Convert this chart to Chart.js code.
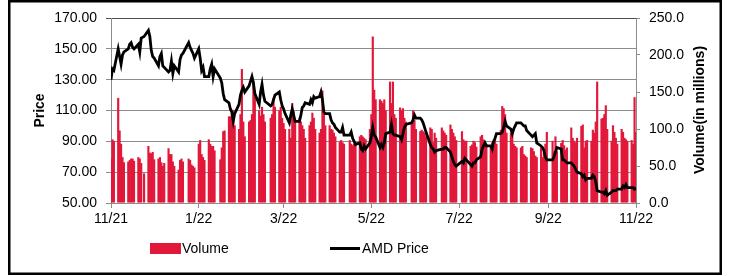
<!DOCTYPE html>
<html>
<head>
<meta charset="utf-8">
<script src="https://cdn.jsdelivr.net/npm/chart.js@4/dist/chart.umd.min.js"></script>
<style>
  html, body { margin: 0; padding: 0; background: #fff; }
  #wrap { width: 733px; height: 276px; position: relative; }
</style>
</head>
<body>
<div id="wrap"><canvas id="c" width="733" height="276"></canvas></div>
<script>
// Axis calendar: day 0 = Wed 3 Nov 2021, day 365 = Thu 3 Nov 2022 (weekdays only carry data)
const startDate = '2021-11-03';
const axisDays = 365;
const tickDays = [0, 61, 120, 181, 242, 304, 365];
const tickLabels = ['11/21', '1/22', '3/22', '5/22', '7/22', '9/22', '11/22'];
const priceTicks = [50, 70, 90, 110, 130, 150, 170];
const volumeTicks = [0, 50, 100, 150, 200, 250];

// Daily volume (millions), one row per calendar week (Mon..Fri), null = market holiday
const volume = [
  60, 86, 84,
  142, 98, 80, 62, 55,
  56, 58, 60, 60, 57,
  62, 60, 54, null, 40,
  77, 68, 67, 69, 59,
  60, 62, 55, 50, 54,
  74, 66, 66, 56, 50,
  45, 58, 60, 56, null,
  60, 58, 52, 50, 48,
  80, 85, 66, 62, 58,
  86, 80, 77, 77, 71,
  null, 59, 75, 97, 98,
  117, 117, 120, 126, 105,
  100, 120, 181, 110, 90,
  110, 112, 120, 165, 150,
  125, 118, 130, 120, 110,
  null, 115, 120, 142, 130,
  125, 130, 115, 108, 100,
  100, 88, 135, 124, 110,
  115, 110, 105, 100, 88,
  105, 110, 122, 115, 100,
  95, 100, 152, 120, 105,
  105, 100, 99, 95, 90,
  83, 85, 82, 80, null,
  85, 80, 78, 80, 82,
  90, 92, 90, 88, 86,
  100, 120, 225, 153, 140,
  140, 138, 135, 140, 125,
  164, 135, 164, 120, 115,
  129, 125, 128, 115, 110,
  null, 108, 125, 112, 100,
  97, 99, 97, 95, 90,
  102, 100, 82, 95, 88,
  null, 102, 98, 95, 92,
  106, 100, 95, 90, 85,
  null, 97, 86, 84, 84,
  77, 79, 84, 82, 76,
  90, 92, 86, 78, 80,
  75, 82, 78, 86, 80,
  99, 131, 128, 120, 95,
  95, 95, 80, 77, 75,
  75, 77, 66, 64, 62,
  75, 74, 70, 64, 62,
  75, 62, 70, 80, 96,
  null, 84, 70, 90, 70,
  81, 85, 78, 72, 75,
  102, 88, 84, 82, 88,
  104, 106, 75, 84, 85,
  84, 99, 95, 110, 164,
  114, 115, 120, 132, 100,
  84, 105, 96, 88, 80,
  100, 96, 88, 86, 84,
  85, 80, 143, 96
];

// Daily closing price (USD), same layout
const price = [
  130, 137, 136,
  150, 145, 140, 146, 148,
  150, 153, 154, 151, 150,
  153, 148, 157, null, 158,
  162, 158, 149, 145, 144,
  139, 145, 147, 139, 138,
  135, 136, 142, 134, 139,
  135, 143, 146, 147, null,
  154, 151, 149, 147, 144,
  150, 144, 136, 138, 132,
  132, 137, 140, 132, 137,
  null, 131, 128, 121, 117,
  115, 111, 109, 103, 108,
  114, 120, 123, 125, 122,
  126, 129, 132, 128, 121,
  114, 122, 127, 120, 116,
  null, 113, 114, 117, 120,
  122, 117, 113, 111, 108,
  102, 107, 111, 107, 103,
  103, 107, 112, 113, 115,
  114, 117, 115, 119, 118,
  119, 122, 117, 109, 108,
  108, 104, 102, 101, 99,
  96, 96, 99, 94, null,
  94, 96, 92, 90, 88,
  89, 85, 84, 87, 85,
  89, 93, 99, 94, 93,
  86, 88, 86, 89, 95,
  96, 101, 95, 94, 94,
  93, 91, 95, 99, 101,
  null, 102, 104, 107, 105,
  105, 104, 102, 99, 96,
  88, 86, 85, 83, 84,
  null, 85, 85, 86, 86,
  83, 80, 77, 75, 74,
  null, 77, 76, 79, 78,
  75, 74, 76, 76, 78,
  80, 85, 87, 89, 87,
  87, 85, 90, 92, 95,
  95, 96, 99, 103, 100,
  98, 95, 98, 100, 102,
  102, 101, 100, 100, 97,
  94, 93, 94, 95, 89,
  87, 86, 84, 80, 78,
  null, 78, 80, 83, 86,
  85, 78, 78, 77, 76,
  76, 75, 74, 72, 70,
  69, 67, 68, 65, 66,
  66, 68, 67, 64, 58,
  57, 57, 56, 58, 55,
  57, 58, 58, 58, 59,
  59, 61, 60, 62, 60,
  60, 60, 59, 60
];

// weekday offsets from startDate
const weekdays = [];
(function () {
  const s = new Date(startDate + 'T12:00:00Z');
  for (let d = 0; d <= axisDays; d++) {
    const t = new Date(s.getTime() + d * 86400000);
    const wd = t.getUTCDay();
    if (wd !== 0 && wd !== 6) weekdays.push(d);
  }
})();

const volPts = [], pricePts = [];
weekdays.forEach((d, i) => {
  if (volume[i] != null) volPts.push({ x: d, y: volume[i] });
  if (price[i] != null) pricePts.push({ x: d, y: price[i] });
});

const BAR = '#E2183A';
const FONT = '"Liberation Sans", Arial, sans-serif';
const GRID = '#8c8c8c';

const decor = {
  id: 'decor',
  beforeDraw(chart) {
    const ctx = chart.ctx;
    ctx.save();
    ctx.fillStyle = '#fff';
    ctx.fillRect(0, 0, chart.width, chart.height);
    ctx.restore();
  },
  afterDraw(chart) {
    const ctx = chart.ctx;
    ctx.save();
    ctx.strokeStyle = '#000';
    ctx.lineWidth = 2.5;
    ctx.strokeRect(9.25, 1.25, 711.5, 272.5);
    // legend
    ctx.fillStyle = BAR;
    ctx.fillRect(150, 243, 31, 11);
    ctx.fillStyle = '#000';
    ctx.font = '14px ' + FONT;
    ctx.textBaseline = 'middle';
    ctx.textAlign = 'left';
    ctx.fillText('Volume', 182, 249);
    ctx.strokeStyle = '#000';
    ctx.lineWidth = 3;
    ctx.beginPath();
    ctx.moveTo(330, 248.5);
    ctx.lineTo(360, 248.5);
    ctx.stroke();
    ctx.fillText('AMD Price', 362, 249);
    // right axis title (reads bottom-to-top)
    ctx.translate(700, 110);
    ctx.rotate(-Math.PI / 2);
    ctx.font = 'bold 14px ' + FONT;
    ctx.textAlign = 'center';
    ctx.fillText('Volume(in millions)', 0, 0);
    ctx.restore();
  }
};

new Chart(document.getElementById('c'), {
  type: 'bar',
  data: {
    datasets: [
      {
        type: 'line',
        label: 'AMD Price',
        data: pricePts,
        yAxisID: 'y',
        borderColor: '#000',
        borderWidth: 2.8,
        pointRadius: 0,
        tension: 0,
        order: 0
      },
      {
        type: 'bar',
        label: 'Volume',
        data: volPts,
        yAxisID: 'y1',
        backgroundColor: BAR,
        borderWidth: 0,
        inflateAmount: 0,
        barPercentage: 1.5,
        categoryPercentage: 1,
        order: 1
      }
    ]
  },
  options: {
    responsive: false,
    animation: false,
    events: [],
    layout: { padding: { left: 0, right: 0, top: 18, bottom: 0 } },
    plugins: { legend: { display: false }, tooltip: { enabled: false } },
    scales: {
      x: {
        type: 'linear',
        position: 'bottom',
        min: 0,
        max: axisDays,
        offset: false,
        afterBuildTicks: (s) => { s.ticks = tickDays.map(v => ({ value: v })); },
        afterFit: (s) => { s.height = 73; },
        ticks: {
          autoSkip: false,
          maxRotation: 0,
          padding: 3,
          color: '#000',
          font: { family: FONT, size: 14 },
          callback: (v) => { const i = tickDays.indexOf(v); return i >= 0 ? tickLabels[i] : ''; }
        },
        grid: { display: true, drawOnChartArea: false, drawTicks: true, tickLength: 5, color: GRID, offset: false },
        border: { color: GRID, width: 1 }
      },
      y: {
        position: 'left',
        min: 50,
        max: 170,
        afterBuildTicks: (s) => { s.ticks = priceTicks.map(v => ({ value: v })); },
        afterFit: (s) => { s.width = 111; },
        ticks: {
          padding: 9,
          color: '#000',
          font: { family: FONT, size: 14 },
          callback: (v) => Number(v).toFixed(2)
        },
        title: {
          display: true,
          text: 'Price',
          color: '#000',
          font: { family: FONT, size: 14, weight: 'bold' },
          padding: { top: 32, bottom: 0 }
        },
        grid: {
          drawTicks: true,
          tickLength: 5,
          color: (c) => (c.tick && c.tick.value === 170 ? '#505050' : GRID),
          lineWidth: 1
        },
        border: { color: GRID, width: 1 }
      },
      y1: {
        position: 'right',
        min: 0,
        max: 250,
        afterBuildTicks: (s) => { s.ticks = volumeTicks.map(v => ({ value: v })); },
        afterFit: (s) => { s.width = 97; },
        ticks: {
          padding: 9,
          color: '#000',
          font: { family: FONT, size: 14 },
          callback: (v) => Number(v).toFixed(1)
        },
        grid: { drawOnChartArea: false, drawTicks: true, tickLength: 4, color: GRID },
        border: { color: GRID, width: 1 }
      }
    }
  },
  plugins: [decor]
});
</script>
</body>
</html>
